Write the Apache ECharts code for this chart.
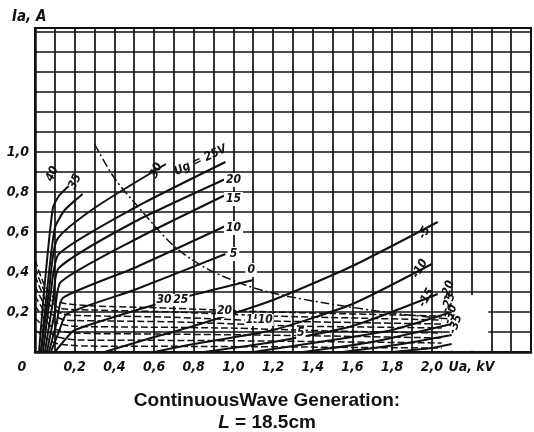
<!DOCTYPE html>
<html><head><meta charset="utf-8">
<script src="https://cdn.jsdelivr.net/npm/echarts@6/dist/echarts.min.js"></script>
<style>html,body{margin:0;padding:0;background:#fff}#c{width:534px;height:432px}</style>
</head><body><div id="c"></div>
<script>
// ---- data (Ua in kV, I in A) ----
const iaNames = ['40','35','30','Ug = 25V','20','15','10','5','0','-5','-10','-15','-20','-25','-30','-35'];
const ia40 = [[0.02,0],[0.05,0.35],[0.09,0.72],[0.12,0.78],[0.17,0.83]];
const ia35 = [[0.03,0],[0.06,0.3],[0.1,0.62],[0.15,0.71],[0.24,0.79]];
const ia30 = [[0.03,0],[0.07,0.3],[0.11,0.56],[0.3,0.72],[0.66,0.94]];
const ia25 = [[0.04,0],[0.08,0.3],[0.12,0.49],[0.5,0.72],[0.96,0.95]];
const ia20 = [[0.05,0],[0.09,0.25],[0.12,0.42],[0.5,0.65],[0.96,0.865]];
const ia15 = [[0.06,0],[0.1,0.2],[0.13,0.35],[0.5,0.56],[0.96,0.785]];
const ia10 = [[0.07,0],[0.11,0.15],[0.14,0.27],[0.5,0.42],[0.96,0.63]];
const ia5  = [[0.08,0],[0.12,0.1],[0.16,0.19],[0.5,0.31],[0.96,0.49]];
const ia0  = [[0.1,0],[0.15,0.06],[0.2,0.11],[0.6,0.235],[1.1,0.36]];
const iaM5  = [[0.35,0],[0.55,0.06],[0.8,0.13],[1.2,0.26],[1.6,0.43],[2.03,0.65]];
const iaM10 = [[0.6,0],[0.8,0.04],[1.2,0.11],[1.6,0.24],[2.0,0.44]];
const iaM15 = [[0.85,0],[1.2,0.05],[1.6,0.13],[2.03,0.29]];
const iaM20 = [[1.1,0],[1.5,0.06],[1.8,0.11],[2.1,0.2]];
const iaM25 = [[1.35,0],[1.7,0.05],[2.1,0.14]];
const iaM30 = [[1.55,0],[1.85,0.04],[2.1,0.085]];
const iaM35 = [[1.8,0],[2.0,0.02],[2.1,0.04]];
const iaCurves = [ia40,ia35,ia30,ia25,ia20,ia15,ia10,ia5,ia0,iaM5,iaM10,iaM15,iaM20,iaM25,iaM30,iaM35];

const igNames = ['40','35','30','25','20','15','10','5'];
const ig40 = [[0,0.46],[0.05,0.33],[0.12,0.25],[0.3,0.23],[0.65,0.22],[1.2,0.2],[2.05,0.18]];
const ig35 = [[0,0.42],[0.05,0.3],[0.12,0.22],[0.3,0.21],[0.7,0.2],[1.2,0.18],[2.05,0.16]];
const ig30 = [[0,0.38],[0.06,0.25],[0.14,0.19],[0.35,0.18],[0.65,0.175],[1.2,0.155],[2.05,0.14]];
const ig25 = [[0,0.33],[0.07,0.2],[0.15,0.16],[0.4,0.155],[0.73,0.15],[1.3,0.13],[2.05,0.12]];
const ig20 = [[0,0.28],[0.08,0.16],[0.18,0.13],[0.5,0.125],[0.96,0.12],[1.5,0.105],[2.05,0.095]];
const ig15 = [[0,0.23],[0.09,0.12],[0.2,0.095],[0.6,0.09],[1.1,0.085],[1.6,0.078],[2.05,0.07]];
const ig10 = [[0,0.17],[0.1,0.08],[0.22,0.06],[0.7,0.058],[1.15,0.055],[1.6,0.05],[2.05,0.045]];
const ig5  = [[0,0.11],[0.1,0.045],[0.25,0.03],[0.8,0.028],[1.34,0.025],[1.7,0.022],[2.05,0.02]];
const igCurves = [ig40,ig35,ig30,ig25,ig20,ig15,ig10,ig5];
const igLabelAt = [-1,-1,4,4,4,4,4,4];

const paLimit = [[0.3,1.04],[0.4,0.87],[0.525,0.72],[0.7,0.53],[0.86,0.42],[1.06,0.335],[1.22,0.29],[1.46,0.245],[1.8,0.195],[2.09,0.165]];

// ---- label styling ----
const iaLabelStyle = [
  {offset:[4,-20],rotate:65},{offset:[8,-12],rotate:65},{offset:[-10,-6],rotate:65},
  {offset:[-22,-12],rotate:25},{offset:[8,1],rotate:0,box:true},{offset:[8,4],rotate:0,box:true},
  {offset:[8,2],rotate:0,box:true},{offset:[8,0],rotate:0,box:true},{offset:[-2,-10],rotate:0,box:true},
  {offset:[-16,-6],rotate:60},{offset:[-10,-8],rotate:60},{offset:[-9,-8],rotate:60},
  {offset:[19,-11],rotate:70},{offset:[19,-10],rotate:70},{offset:[19,-8],rotate:70},{offset:[20,-3],rotate:70}
];
const igLabelOffset = [[0,0],[0,0],[0,-17],[1,-22],[-1,-17],[0,-15],[2,-21],[0,-14]];
const labFont = {fontFamily:'DejaVu Sans Condensed',fontStyle:'italic',fontWeight:'bold',fontSize:12,color:'#111'};

const series = [];
iaCurves.forEach((pts,i)=>{
  const st = iaLabelStyle[i];
  series.push({
    type:'line', name:'Ia '+iaNames[i], smooth:0.2, symbol:'circle', symbolSize:0, showSymbol:true,
    lineStyle:{color:'#111',width:2}, label:{show:false}, z:3, animation:false,
    data: pts.map((p,j)=> j===pts.length-1 ? {value:p, label:Object.assign({show:true,position:'inside',formatter:iaNames[i],offset:st.offset,rotate:st.rotate},labFont, st.box?{backgroundColor:'#fff',padding:[1,2]}:{})} : p)
  });
});
igCurves.forEach((pts,i)=>{
  series.push({
    type:'line', name:'Ig '+igNames[i], smooth:0.2, symbol:'circle', symbolSize:0, showSymbol:true,
    lineStyle:{color:'#111',width:1.5,type:[7,3]}, label:{show:false}, z:3, animation:false,
    data: pts.map((p,j)=> j===igLabelAt[i] ? {value:p, label:Object.assign({show:true,position:'inside',formatter:igNames[i],offset:igLabelOffset[i],backgroundColor:'#fff',padding:[0,1]},labFont)} : p)
  });
});
series.push({
  type:'line', name:'Pa', smooth:0.3, symbol:'none', lineStyle:{color:'#111',width:1.5,type:[9,3,2,3]}, z:3, animation:false,
  data: paLimit,
  markArea:{silent:true, itemStyle:{color:'#fff'}, data:[[{coord:[2.09,0.006]},{coord:[2.285,0.285]}]]}
});

const axisFont = {fontFamily:'DejaVu Sans Condensed',fontStyle:'italic',fontWeight:'bold',fontSize:14,color:'#111'};
const chart = echarts.init(document.getElementById('c'));
chart.setOption({
  animation:false,
  backgroundColor:'#fff',
  title:[
    {text:'Ia, A', left:7, top:5, textStyle:{fontFamily:'DejaVu Sans Condensed',fontStyle:'italic',fontWeight:'bold',fontSize:15,color:'#111'}},
    {text:'ContinuousWave Generation:', left:'center', top:386, textStyle:{fontFamily:'Liberation Sans',fontWeight:'bold',fontSize:19,color:'#111'}},
    {text:'{i|L} = 18.5cm', left:'center', top:408, textStyle:{fontFamily:'Liberation Sans',fontWeight:'bold',fontSize:19,color:'#111',rich:{i:{fontFamily:'Liberation Sans',fontWeight:'bold',fontStyle:'italic',fontSize:19,color:'#111'}}}}
  ],
  grid:{left:35,right:0,top:28,bottom:80,show:true,borderColor:'#111',borderWidth:2},
  xAxis:{type:'value',min:0,max:2.5,interval:0.1,
    axisLine:{lineStyle:{color:'#111',width:2.5}}, axisTick:{show:false},
    splitLine:{show:true,lineStyle:{color:'#111',width:1.7}},
    axisLabel:Object.assign({margin:8,showMaxLabel:true,hideOverlap:false,
      formatter:(v)=>{const k=Math.round(v*10); if(k%2) return ''; if(k===0) return '{z|0}'; if(k===22) return 'Ua, kV'; if(k>20) return ''; return (k/10).toFixed(1).replace('.',',');},
      rich:{z:Object.assign({padding:[0,26,0,0]},axisFont)}},axisFont)},
  yAxis:{type:'value',min:0,max:1.62,interval:0.1,
    axisLine:{show:true,lineStyle:{color:'#111',width:2.5}}, axisTick:{show:false},
    splitLine:{show:true,lineStyle:{color:'#111',width:1.7}},
    axisLabel:Object.assign({margin:6,showMaxLabel:false,
      formatter:(v)=>{const k=Math.round(v*10); if(k<2||k>10||k%2) return ''; return (k/10).toFixed(1).replace('.',',');}},axisFont)},
  series:series
});
</script></body></html>
